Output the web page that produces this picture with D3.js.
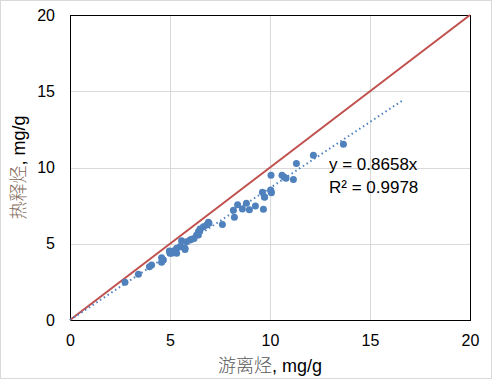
<!DOCTYPE html>
<html><head><meta charset="utf-8">
<script src="https://cdn.jsdelivr.net/npm/d3@7"></script>
<style>
html,body{margin:0;padding:0;background:#fff;}
svg{display:block;}
</style></head>
<body>
<svg id="c" width="492" height="379"></svg>
<script>
// Data: free hydrocarbons (x) vs. thermally released hydrocarbons (y), mg/g
const freeHC = [2.75,3.42,3.97,4.08,4.58,4.67,4.58,4.97,5.0,5.08,5.17,5.33,5.33,5.5,5.5,5.58,5.75,5.75,5.83,6.0,6.08,6.2,6.33,6.42,6.42,6.5,6.5,6.67,6.83,6.92,6.95,7.62,8.17,8.22,8.38,8.62,8.82,8.97,9.27,9.62,9.67,9.72,9.73,10.03,10.05,10.07,10.05,10.6,10.72,10.8,11.17,11.32,12.17,13.67];
const releasedHC = [2.47,3.0,3.5,3.6,3.78,3.93,4.09,4.52,4.37,4.37,4.52,4.37,4.7,4.81,4.81,5.2,4.63,4.7,5.13,5.25,5.29,5.35,5.57,5.57,5.79,5.9,5.97,6.12,6.23,6.41,6.34,6.27,7.19,6.73,7.56,7.28,7.65,7.23,7.48,8.37,7.26,8.09,8.05,8.52,8.44,8.35,9.49,9.49,9.36,9.29,9.22,10.27,10.8,11.52];
const xTicks = [0,5,10,15,20];
const yTicks = [0,5,10,15,20];
const slope = 0.8658;
const trendEnd = 16.65;
const eqText = "y = 0.8658x";
const r2Text = "R² = 0.9978";
const xTitleCN = "游离烃", xTitleUnit = ", mg/g";
const yTitleCN = "热释烃", yTitleUnit = ", mg/g";

const svg = d3.select("#c");
const L = 70, R = 470, T = 15, B = 320;
const x = d3.scaleLinear().domain([0,20]).range([L,R]);
const y = d3.scaleLinear().domain([0,20]).range([B,T]);
const font = "'Liberation Sans', Arial, sans-serif";

svg.append("rect").attr("x",0.5).attr("y",0.5).attr("width",491).attr("height",378)
  .attr("fill","#fff").attr("stroke","#d9d9d9");

// gridlines
svg.append("g").selectAll("line").data(xTicks.filter(d=>d>0&&d<20)).join("line")
  .attr("x1",d=>x(d)+0.5).attr("x2",d=>x(d)+0.5).attr("y1",T).attr("y2",B)
  .attr("stroke","#d9d9d9").attr("stroke-width",1);
svg.append("g").selectAll("line").data(yTicks.filter(d=>d>0&&d<20)).join("line")
  .attr("y1",d=>Math.round(y(d))+0.5).attr("y2",d=>Math.round(y(d))+0.5).attr("x1",L).attr("x2",R)
  .attr("stroke","#d9d9d9").attr("stroke-width",1);

// plot border
svg.append("rect").attr("x",L+0.5).attr("y",T+0.5).attr("width",R-L).attr("height",B-T)
  .attr("fill","none").attr("stroke","#000").attr("stroke-width",1);

// axes labels using d3 axes
const xAxis = svg.append("g").attr("transform",`translate(0,${B})`)
  .call(d3.axisBottom(x).tickValues(xTicks).tickSize(0).tickPadding(15));
xAxis.select(".domain").remove();
xAxis.selectAll("text").attr("font-family",font).attr("font-size",16).attr("fill","#000");
const yAxis = svg.append("g").attr("transform",`translate(${L},0)`)
  .call(d3.axisLeft(y).tickValues(yTicks).tickSize(0).tickPadding(15));
yAxis.select(".domain").remove();
yAxis.selectAll("text").attr("font-family",font).attr("font-size",16).attr("fill","#000");

// 1:1 line
svg.append("line").attr("x1",x(0)).attr("y1",y(0)).attr("x2",x(20)).attr("y2",y(20))
  .attr("stroke","#c0504d").attr("stroke-width",2);

// trendline
svg.append("line").attr("x1",x(0)).attr("y1",y(0)).attr("x2",x(trendEnd)).attr("y2",y(slope*trendEnd))
  .attr("stroke","#4f81bd").attr("stroke-width",2).attr("stroke-dasharray","1.5,3");

// points
svg.append("g").selectAll("circle").data(freeHC.map((v,i)=>[v,releasedHC[i]])).join("circle")
  .attr("cx",d=>x(d[0])).attr("cy",d=>y(d[1])).attr("r",3.5).attr("fill","#4f81bd");

// equation
svg.append("text").attr("x",329).attr("y",170).attr("font-family",font).attr("font-size",17).text(eqText);
svg.append("text").attr("x",329).attr("y",193).attr("font-family",font).attr("font-size",17).text(r2Text);

// titles
const xt = svg.append("text").attr("x",(L+R)/2).attr("y",372).attr("text-anchor","middle").attr("font-size",18);
xt.append("tspan").attr("font-family","'Noto Sans CJK SC'").attr("fill","#595959").attr("font-weight",300).text(xTitleCN);
xt.append("tspan").attr("font-family",font).attr("fill","#000").text(xTitleUnit);
const yt = svg.append("text").attr("transform",`translate(25,${(T+B)/2}) rotate(-90)`).attr("text-anchor","middle").attr("font-size",18);
yt.append("tspan").attr("font-family","'Noto Sans CJK SC'").attr("fill","#7f6a5a").attr("font-weight",300).text(yTitleCN);
yt.append("tspan").attr("font-family",font).attr("fill","#000").text(yTitleUnit);
</script>
</body></html>
